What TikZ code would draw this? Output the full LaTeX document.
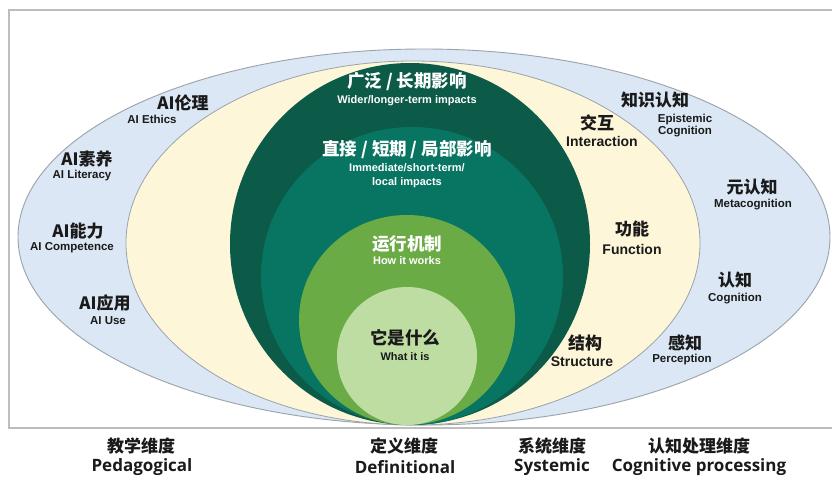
\documentclass[tikz,border=0pt]{standalone}
\usepackage{fontspec}
\setmainfont{Liberation Sans}
\newfontfamily\cjk{Noto Sans CJK SC}
\newfontfamily\btm{Open Sans}
\definecolor{bluefill}{HTML}{DBE7F4}
\definecolor{creamfill}{HTML}{FDF6D8}
\definecolor{dkgreen}{HTML}{0C5A48}
\definecolor{tealg}{HTML}{087563}
\definecolor{midgreen}{HTML}{6BAB45}
\definecolor{ltgreen}{HTML}{BEDDA3}
\definecolor{edgegray}{HTML}{9AA2AB}
\definecolor{framegray}{HTML}{BDBDBD}
\definecolor{txt}{HTML}{1A1A1A}
\newcommand{\slsh}{\hspace{4pt}/\hspace{4pt}}
\tikzset{
  cjkl/.style={font=\cjk\bfseries\fontsize{17}{17}\selectfont, inner sep=0pt, text=txt},
  cjkc/.style={font=\cjk\bfseries\fontsize{17.5}{17.5}\selectfont, inner sep=0pt, text=white},
  enl/.style={font=\bfseries\fontsize{11.5}{12}\selectfont, inner sep=0pt, text=txt},
  enm/.style={font=\bfseries\fontsize{14}{14}\selectfont, inner sep=0pt, text=txt},
  enc/.style={font=\bfseries\fontsize{11}{14}\selectfont, inner sep=0pt, text=white, align=center},
  btmcjk/.style={font=\cjk\bfseries\fontsize{17}{17}\selectfont, inner sep=0pt, text=txt},
  btmen/.style={font=\btm\bfseries\fontsize{17}{17}\selectfont, inner sep=0pt, text=txt},
}
\begin{document}
\begin{tikzpicture}[x=1pt,y=-1pt]
\clip (0,0) rectangle (832,477);
\fill[white] (0,0) rectangle (832,477);
% frame
\draw[framegray, line width=1.5pt] (9,10) rectangle (850,428);
% ellipses
\filldraw[fill=bluefill, draw=edgegray, line width=0.9pt] (424,237) ellipse [x radius=406, y radius=188];
\filldraw[fill=creamfill, draw=edgegray, line width=0.8pt] (413,243) ellipse [x radius=287, y radius=182];
\fill[dkgreen] (410,244) ellipse [x radius=180, y radius=181];
\fill[tealg] (412,276) ellipse [x radius=151, y radius=149];
\fill[midgreen] (407,320) ellipse [x radius=108, y radius=105];
\fill[ltgreen] (407,356) ellipse [x radius=70, y radius=69];
% central texts
\node[cjkc] (wzh) at (407,82) {广泛\slsh 长期影响};
\node[enc] (wen) at (407,101) {Wider/longer-term impacts};
\node[cjkc] (izh) at (407,150) {直接\slsh 短期\slsh 局部影响};
\node[enc] (ien) at (407,176) {Immediate/short-term/\\local impacts};
\node[cjkc] (hzh) at (407,244) {运行机制};
\node[enc] (hen) at (407,261) {How it works};
\node[cjkc, text=txt] (qzh) at (405,338) {它是什么};
\node[enc, text=txt] (qen) at (405,357) {What it is};
% left labels
\node[cjkl] (ethz) at (183,103) {AI伦理};
\node[enl] (ethe) at (152,119) {AI Ethics};
\node[cjkl] (litz) at (87,159) {AI素养};
\node[enl] (lite) at (82,176) {AI Literacy};
\node[cjkl] (comz) at (78,231) {AI能力};
\node[enl] (come) at (72,248) {AI Competence};
\node[cjkl] (usez) at (105,303) {AI应用};
\node[enl] (usee) at (108,321) {AI Use};
% cream right labels
\node[cjkl] (intz) at (597,123) {交互};
\node[enm] (inte) at (602,141) {Interaction};
\node[cjkl] (funz) at (632,229) {功能};
\node[enm] (fune) at (632,249) {Function};
\node[cjkl] (strz) at (585,343) {结构};
\node[enm] (stre) at (582,362) {Structure};
% blue right labels
\node[cjkl] (epiz) at (655,100) {知识认知};
\node[enl, align=center] (epie) at (685,126) {Epistemic\\Cognition};
\node[cjkl] (metz) at (752,187) {元认知};
\node[enl] (mete) at (753,205) {Metacognition};
\node[cjkl] (cogz) at (735,280) {认知};
\node[enl] (coge) at (735,299) {Cognition};
\node[cjkl] (perz) at (685,343) {感知};
\node[enl] (pere) at (682,360) {Perception};
% bottom labels
\node[btmcjk] (pedz) at (141,446) {教学维度};
\node[btmen] (pede) at (142,467) {Pedagogical};
\node[btmcjk] (defz) at (404,446) {定义维度};
\node[btmen] (defe) at (405,467) {Definitional};
\node[btmcjk] (sysz) at (552,446) {系统维度};
\node[btmen] (syse) at (552,467) {Systemic};
\node[btmcjk] (cpz) at (699,446) {认知处理维度};
\node[btmen] (cpe) at (699,467) {Cognitive processing};
\end{tikzpicture}
\end{document}
